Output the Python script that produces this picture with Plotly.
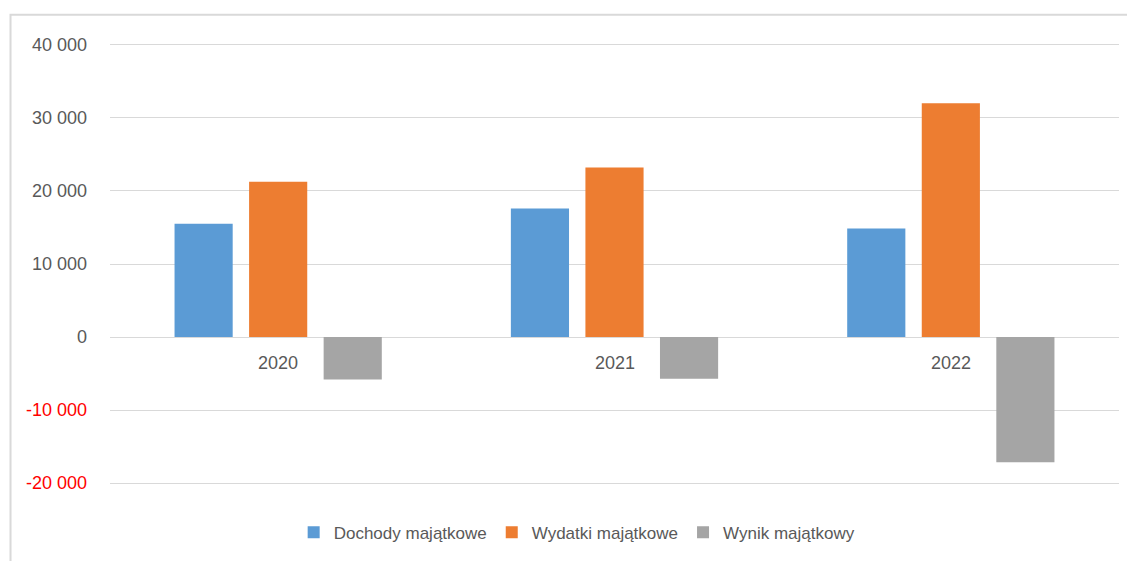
import plotly.graph_objects as go

years = ["2020", "2021", "2022"]
dochody = [15500, 17600, 14850]
wydatki = [21250, 23200, 32000]
wynik = [-5800, -5700, -17150]
series_names = ["Dochody majątkowe", "Wydatki majątkowe", "Wynik majątkowy"]
colors = ["#5B9BD5", "#ED7D31", "#A5A5A5"]
tick_vals = [-20000, -10000, 0, 10000, 20000, 30000, 40000]
tick_text = ['<span style="color:#FF0000">-20 000</span>',
             '<span style="color:#FF0000">-10 000</span>',
             "0", "10 000", "20 000", "30 000", "40 000"]

FONT = "Liberation Sans Narrow, Arial Narrow, Liberation Sans, Arial, sans-serif"

fig = go.Figure()
for name, vals, col in zip(series_names, [dochody, wydatki, wynik], colors):
    fig.add_trace(go.Bar(x=years, y=vals, name=name, marker=dict(color=col, line=dict(width=0))))

for i, yr in enumerate(years):
    fig.add_annotation(x=i, y=0, xref="x", yref="y", text=yr, showarrow=False,
                       yanchor="top", yshift=-14, font=dict(family=FONT, size=18, color="#595959"))

# outer chart border (paper coords relative to plot area)
fig.add_shape(type="rect", xref="paper", yref="paper", x0=-0.0986, x1=1.2, y0=-0.4, y1=1.0615,
              line=dict(color="#D9D9D9", width=2), layer="below")

fig.update_layout(
    width=1135, height=561,
    margin=dict(l=102, r=24, t=34, b=83),
    paper_bgcolor="white", plot_bgcolor="white",
    barmode="group", bargap=0.335, bargroupgap=0.22,
    font=dict(family=FONT, size=18, color="#595959"),
    xaxis=dict(type="category", range=[-0.5, 2.5], showticklabels=False, showgrid=False,
               showline=False, zeroline=False, ticks=""),
    yaxis=dict(range=[-20400, 40400], tickvals=tick_vals, ticktext=tick_text,
               showgrid=True, gridcolor="#D9D9D9", gridwidth=1, zeroline=True,
               zerolinecolor="#D9D9D9", zerolinewidth=1, showline=False, ticks="",
               ticklabelstandoff=22, tickfont=dict(family=FONT, size=18, color="#595959")),
    legend=dict(orientation="h", x=0.463, xanchor="center", y=-0.105, yanchor="middle",
                font=dict(family=FONT, size=17, color="#595959"), itemwidth=30,
                traceorder="normal", bgcolor="rgba(0,0,0,0)"),
    showlegend=True,
)

fig.write_html("out.html")
